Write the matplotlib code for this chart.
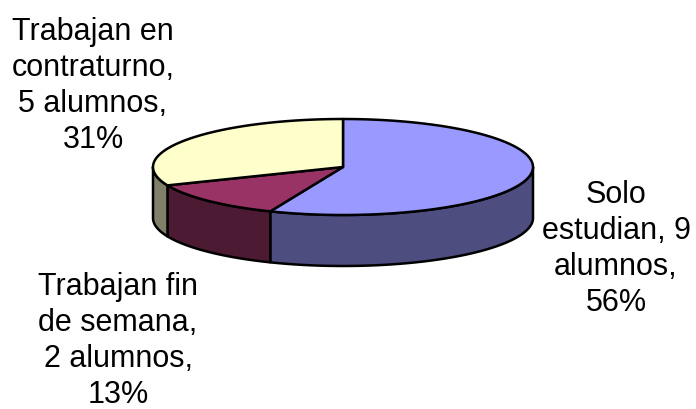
import matplotlib.pyplot as plt
from matplotlib.patches import Polygon
import numpy as np

plt.rcParams['font.family'] = ['Liberation Sans', 'DejaVu Sans']

grupos = ['Solo estudian', 'Trabajan fin de semana', 'Trabajan en contraturno']
alumnos = [9, 2, 5]
porcentajes = [56, 13, 31]
etiquetas = ['Solo\nestudian, 9\nalumnos,\n56%',
             'Trabajan fin\nde semana,\n2 alumnos,\n13%',
             'Trabajan en\ncontraturno,\n5 alumnos,\n31%']
color_tapa = ['#9999FF', '#993366', '#FFFFCC']
color_lado = ['#4D4D80', '#4D1A33', '#80806A']

# geometria de la torta (pixeles)
cx, cy = 343, 168
ra, rb = 190, 48
alto = 51


def punto(t, dy=0):
    t = np.radians(t)
    return cx + ra * np.cos(t), cy - rb * np.sin(t) + dy


def arco(t1, t2, dy=0, n=80):
    ts = np.linspace(t1, t2, n)
    xs, ys = punto(ts, dy)
    return np.column_stack([xs, ys])


fig = plt.figure(figsize=(6.96, 4.10), dpi=100)
ax = fig.add_axes([0, 0, 1, 1])
ax.set_xlim(0, 696)
ax.set_ylim(410, 0)
ax.axis('off')

# angulos de cada porcion, empezando arriba y en sentido horario
total = sum(alumnos)
limites = [90.0]
for v in alumnos:
    limites.append(limites[-1] - 360.0 * v / total)

# caras laterales (solo la mitad frontal se ve)
for i in range(len(alumnos)):
    t1, t2 = limites[i], limites[i + 1]
    a, b = min(t1, 0), max(t2, -180)
    if a <= b:
        continue
    sup = arco(a, b)
    inf = arco(b, a, alto)
    ax.add_patch(Polygon(np.vstack([sup, inf]), closed=True,
                         facecolor=color_lado[i], edgecolor='black',
                         linewidth=1.8, joinstyle='round'))

# tapas
for i in range(len(alumnos)):
    pts = np.vstack([[cx, cy], arco(limites[i], limites[i + 1])])
    ax.add_patch(Polygon(pts, closed=True, facecolor=color_tapa[i],
                         edgecolor='black', linewidth=1.8, joinstyle='round'))

pos = [(616, 249), (118, 341), (93, 86)]
for (x, y), txt in zip(pos, etiquetas):
    ax.text(x, y, txt, ha='center', va='center', fontsize=22,
            linespacing=1.27, color='black')

fig.savefig('out.png', dpi=100)
